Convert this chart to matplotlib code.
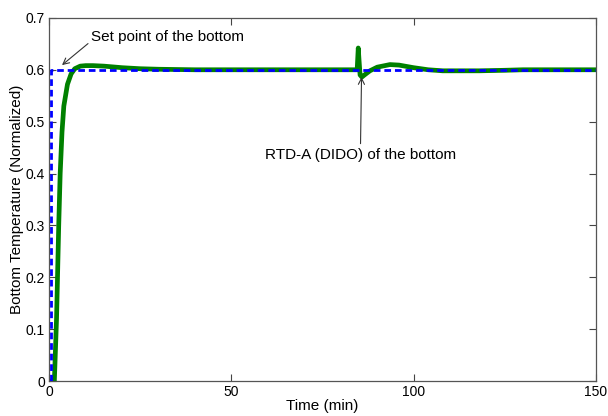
import matplotlib.pyplot as plt

plt.rcParams['font.family'] = ['Liberation Sans', 'DejaVu Sans']

# Set point of the bottom temperature (step at t = 0)
sp_time = [0.4, 0.4, 150.0]
sp_value = [0.0, 0.6, 0.6]

# RTD-A (DIDO) response of the bottom temperature
rtd_time = [0.0, 1.4, 2.0, 2.6, 3.0, 3.5, 4.0, 5.0, 6.0, 7.0, 8.5, 10.0,
            12.0, 15.0, 20.0, 25.0, 30.0, 40.0, 50.0, 60.0, 70.0, 80.0, 84.5,
            84.8, 85.0, 85.3, 85.8, 86.5, 88.0, 90.0, 93.5, 96.0, 100.0,
            104.0, 108.0, 113.0, 118.0, 125.0, 130.0, 140.0, 150.0]
rtd_value = [0.0, 0.0, 0.12, 0.30, 0.40, 0.48, 0.53, 0.572, 0.592, 0.602,
             0.607, 0.608, 0.608, 0.607, 0.604, 0.602, 0.601, 0.600, 0.600,
             0.600, 0.600, 0.600, 0.600, 0.642, 0.620, 0.590, 0.586, 0.590,
             0.598, 0.605, 0.610, 0.609, 0.604, 0.600, 0.598, 0.598, 0.598,
             0.599, 0.600, 0.600, 0.600]

fig, ax = plt.subplots(figsize=(6.08, 4.16), dpi=100)
fig.subplots_adjust(left=0.081, right=0.980, top=0.957, bottom=0.084)

ax.plot(rtd_time, rtd_value, color='#008000', linewidth=3.4, zorder=2)
ax.plot(sp_time, sp_value, color='#0000ff', linewidth=2.0,
        linestyle=(0, (2.4, 1.4)), zorder=3)

ax.set_xlim(0, 150)
ax.set_ylim(0, 0.7)
ax.set_xticks([0, 50, 100, 150])
ax.set_yticks([0, 0.1, 0.2, 0.3, 0.4, 0.5, 0.6, 0.7])
ax.set_yticklabels(['0', '0.1', '0.2', '0.3', '0.4', '0.5', '0.6', '0.7'])
ax.tick_params(direction='in', top=True, right=True, length=5,
               labelsize=10, color='#444444', pad=3)
for s in ax.spines.values():
    s.set_color('#555555')
    s.set_linewidth(0.9)

ax.set_xlabel('Time (min)', fontsize=11, labelpad=0)
ax.set_ylabel('Bottom Temperature (Normalized)', fontsize=11, labelpad=1)

ax.annotate('Set point of the bottom', xy=(3.5, 0.609), xytext=(11.4, 0.663),
            fontsize=11, va='center', ha='left',
            arrowprops=dict(arrowstyle='->', color='#333333', lw=0.8,
                            shrinkA=0, shrinkB=0, relpos=(0.0, 0.2)))
ax.annotate('RTD-A (DIDO) of the bottom', xy=(85.7, 0.586), xytext=(59.2, 0.436),
            fontsize=11, va='center', ha='left',
            arrowprops=dict(arrowstyle='->', color='#333333', lw=0.8,
                            shrinkA=0, shrinkB=0, relpos=(0.5, 1.3)))

plt.savefig('out.png', dpi=100)
